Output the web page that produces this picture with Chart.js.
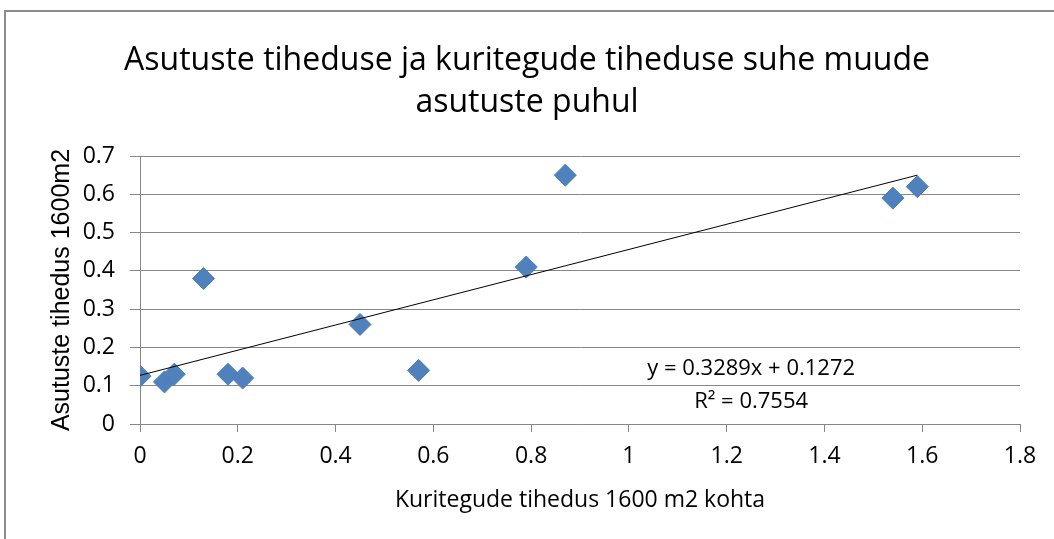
<!DOCTYPE html>
<html>
<head>
<meta charset="utf-8">
<script src="https://cdn.jsdelivr.net/npm/chart.js@4"></script>
<style>
  html, body { margin: 0; padding: 0; background: #ffffff; }
  #wrap { width: 1054px; height: 539px; }
</style>
</head>
<body>
<div id="wrap"><canvas id="c" width="1054" height="539"></canvas></div>
<script>
// ---- data ----
const crimeDensity = [0, 0.05, 0.07, 0.13, 0.18, 0.21, 0.45, 0.57, 0.79, 0.87, 1.54, 1.59];
const institutionDensity = [0.125, 0.11, 0.13, 0.38, 0.13, 0.12, 0.26, 0.14, 0.41, 0.65, 0.59, 0.62];
const trendX = [0, 1.59];
const trendY = [0.127, 0.650];
const xTicks = { min: 0, max: 1.8, step: 0.2 };
const yTicks = { min: 0, max: 0.7, step: 0.1 };
const titleLines = ['Asutuste tiheduse ja kuritegude tiheduse suhe muude', 'asutuste puhul'];
const xTitle = 'Kuritegude tihedus 1600 m2 kohta';
const yTitle = 'Asutuste tihedus 1600m2';
const equationLines = ['y = 0.3289x + 0.1272', 'R\u00B2 = 0.7554'];
const equationAnchor = { x: 1.25, y: 0.145 };

const points = crimeDensity.map((x, i) => ({ x: x, y: institutionDensity[i] }));
const trend = trendX.map((x, i) => ({ x: x, y: trendY[i] }));

const GRID = '#878787';
const FONT = "'Open Sans', 'Noto Sans', sans-serif";
const fmt = (v) => String(Number(Number(v).toFixed(2)));

const framePlugin = {
  id: 'frame',
  beforeDraw(chart) {
    const ctx = chart.ctx;
    ctx.save();
    ctx.fillStyle = '#ffffff';
    ctx.fillRect(0, 0, chart.width, chart.height);
    ctx.strokeStyle = '#8c8c8c';
    ctx.lineWidth = 2;
    ctx.strokeRect(5, 11, 1200, 1000);
    ctx.restore();
  }
};

const equationPlugin = {
  id: 'equation',
  afterDatasetsDraw(chart) {
    const ctx = chart.ctx;
    const xs = chart.scales.x, ys = chart.scales.y;
    const px = xs.getPixelForValue(equationAnchor.x);
    const py = ys.getPixelForValue(equationAnchor.y);
    ctx.save();
    ctx.fillStyle = '#000000';
    ctx.font = "22px " + FONT;
    ctx.textAlign = 'center';
    ctx.textBaseline = 'middle';
    equationLines.forEach((t, i) => ctx.fillText(t, px, py + i * 33));
    ctx.restore();
  }
};

new Chart(document.getElementById('c'), {
  type: 'scatter',
  data: {
    datasets: [
      {
        label: 'Trend',
        data: trend,
        showLine: true,
        borderColor: '#000000',
        borderWidth: 1,
        pointRadius: 0,
        pointHoverRadius: 0,
        fill: false
      },
      {
        label: 'Andmed',
        data: points,
        pointStyle: 'rectRot',
        pointRadius: 11,
        pointHoverRadius: 11,
        backgroundColor: '#4F81BD',
        borderColor: '#4A7EBB',
        borderWidth: 1,
        showLine: false
      }
    ]
  },
  options: {
    responsive: false,
    devicePixelRatio: 1,
    animation: false,
    events: [],
    layout: { padding: { left: 34, right: 34, top: 0, bottom: 0 } },
    plugins: {
      legend: { display: false },
      tooltip: { enabled: false },
      title: {
        display: true,
        text: titleLines,
        color: '#000000',
        font: { family: FONT, size: 32, weight: 'normal', lineHeight: 1.3125 },
        padding: { top: 40, bottom: 32 }
      }
    },
    scales: {
      x: {
        type: 'linear',
        min: xTicks.min,
        max: xTicks.max,
        afterFit(scale) { scale.height = 115; },
        ticks: {
          stepSize: xTicks.step,
          color: '#000000',
          padding: 11,
          font: { family: FONT, size: 23 },
          maxRotation: 0,
          callback: fmt
        },
        grid: { drawOnChartArea: false, drawTicks: true, tickLength: 8, color: GRID },
        border: { color: GRID },
        title: {
          display: true,
          text: xTitle,
          color: '#000000',
          font: { family: FONT, size: 23 },
          padding: { top: 0, bottom: 25 }
        }
      },
      y: {
        type: 'linear',
        min: yTicks.min,
        max: yTicks.max,
        afterFit(scale) { scale.width = 106; },
        ticks: {
          stepSize: yTicks.step,
          color: '#000000',
          padding: 15,
          font: { family: FONT, size: 23 },
          callback: fmt
        },
        grid: { color: GRID, tickLength: 10 },
        border: { color: GRID },
        title: {
          display: true,
          text: yTitle,
          color: '#000000',
          font: { family: "'Liberation Sans', Arial, sans-serif", size: 25 },
          padding: { top: 13, bottom: 0 }
        }
      }
    }
  },
  plugins: [framePlugin, equationPlugin]
});
</script>
</body>
</html>
